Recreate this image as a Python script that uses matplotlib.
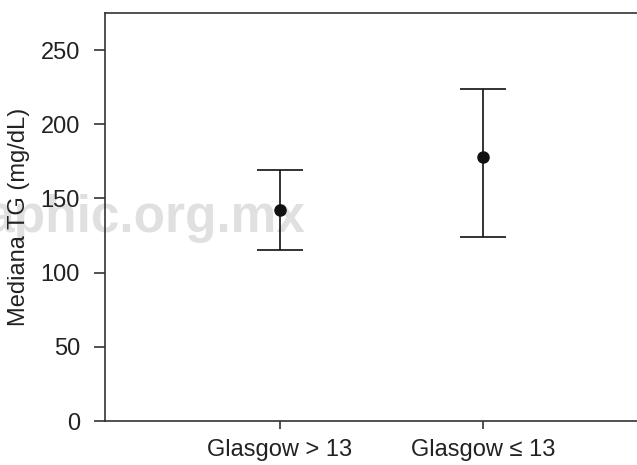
import matplotlib
matplotlib.use("Agg")
import matplotlib.pyplot as plt

# data
groups = ["Glasgow > 13", "Glasgow \u2264 13"]
medians = [142, 178]
lower = [115, 124]
upper = [169, 224]
yticks = [0, 50, 100, 150, 200, 250]

plt.rcParams['font.family'] = ['Liberation Sans', 'DejaVu Sans']

fig = plt.figure(figsize=(6.37, 4.65), dpi=100)
ax = fig.add_axes([105/637, 44/465, 532/637, 408/465])
ax.patch.set_visible(False)

# watermark behind the plot
fig.text(305/637, 1 - 232/465, "aphic.org.mx", ha='right', va='baseline',
         fontsize=37, fontweight='bold', color='#e0e0e0', zorder=-5)

x = [1, 2]
yerr = [[m - l for m, l in zip(medians, lower)],
        [u - m for m, u in zip(medians, upper)]]
ax.errorbar(x, medians, yerr=yerr, fmt='o', color='#111111', ms=8,
            elinewidth=1.2, capsize=16.5, capthick=1.2)

ax.set_xlim(0.138, 2.759)
ax.set_ylim(0, 275)
ax.set_xticks(x)
ax.set_xticklabels(groups)
ax.set_yticks(yticks)
ax.set_ylabel("Mediana TG (mg/dL)", fontsize=17, color='#222222', labelpad=8)

for s in ['left', 'top', 'bottom']:
    ax.spines[s].set_color('#333333')
    ax.spines[s].set_linewidth(1.2)
ax.spines['right'].set_visible(False)

ax.tick_params(axis='y', length=8, width=1.2, color='#333333', pad=10,
               labelsize=17, labelcolor='#222222')
ax.tick_params(axis='x', length=6, width=1.2, color='#333333', pad=7,
               labelsize=17, labelcolor='#222222')

fig.savefig("out.png", dpi=100)
